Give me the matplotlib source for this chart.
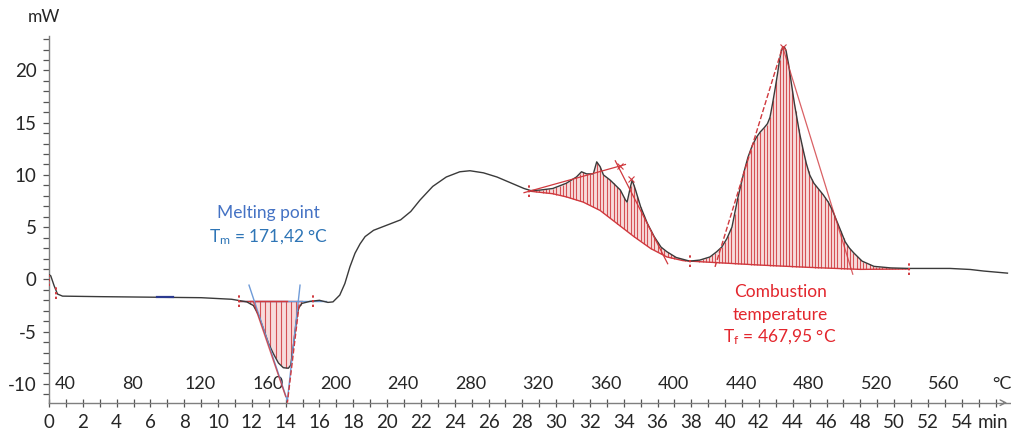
import numpy as np
import matplotlib
matplotlib.use("Agg")
import matplotlib.pyplot as plt
from matplotlib.ticker import MultipleLocator

plt.rcParams['font.family'] = ['Lato', 'DejaVu Sans']
plt.rcParams['mathtext.default'] = 'regular'
plt.rcParams['axes.unicode_minus'] = False

# DSC signal: time (min) vs heat flow (mW)
time_min = [0.0, 0.1, 0.3, 0.5, 0.8, 3.0, 6.0, 9.0, 10.8, 11.7, 12.09, 12.39, 12.68,
            12.98, 13.27, 13.57, 13.86, 14.16, 14.3, 14.46, 14.62, 14.75, 14.95, 15.44,
            16.0, 16.5, 16.8, 17.2, 17.5, 17.8, 18.1, 18.4, 18.7, 19.2, 20.0, 20.8, 21.4,
            21.95, 22.7, 23.5, 24.3, 24.9, 25.7, 26.5, 27.3, 28.1, 28.5, 29.05, 29.8,
            30.6, 31.2, 31.5, 31.8, 32.2, 32.4, 32.6, 32.8, 33.2, 33.8, 34.1, 34.2,
            34.4, 34.5, 34.7, 35.0, 35.4, 35.8, 36.2, 36.55, 37.1, 37.9, 38.5, 39.1,
            39.5, 39.8, 40.1, 40.4, 40.75, 41.1, 41.35, 41.6, 41.85, 42.07, 42.3, 42.5,
            42.65, 42.8, 42.95, 43.1, 43.2, 43.3, 43.4, 43.5, 43.6, 43.75, 43.95,
            44.1, 44.25, 44.4, 44.6, 44.8, 45.0, 45.25, 45.5, 45.8, 46.1, 46.35, 46.6,
            46.85, 47.1, 47.35, 47.6, 48.1, 48.8, 49.8, 50.9, 53.3, 54.5, 55.3, 56.7]
heat_mw = [0.45, 0.35, -0.6, -1.4, -1.6, -1.65, -1.7, -1.75, -1.9, -2.15, -2.5, -3.4, -4.7,
           -6.1, -7.1, -8.0, -8.45, -8.5, -8.2, -6.3, -4.05, -2.8, -2.3, -2.1,
           -2.0, -2.2, -2.15, -1.5, -0.4, 1.2, 2.5, 3.4, 4.1, 4.7, 5.2, 5.7, 6.5,
           7.6, 8.9, 9.8, 10.3, 10.4, 10.2, 9.8, 9.25, 8.7, 8.5, 8.55, 8.7,
           9.2, 9.8, 10.3, 10.1, 10.1, 11.25, 10.8, 10.0, 9.5, 8.55, 7.6, 7.4,
           8.9, 9.5, 8.55, 6.95, 5.35, 4.1, 3.1, 2.65, 2.1, 1.75, 1.85, 2.15,
           2.65, 3.1, 3.9, 5.0, 7.8, 10.2, 11.7, 12.8, 13.6, 14.1, 14.5, 14.9,
           15.5, 16.8, 18.2, 19.7, 20.8, 21.7, 22.2, 22.25, 21.9, 20.6, 18.4,
           16.8, 15.4, 14.0, 12.5, 11.1, 10.0, 9.2, 8.7, 8.1, 7.4, 6.6, 5.6,
           4.6, 3.6, 3.0, 2.55, 1.75, 1.25, 1.1, 1.05, 1.05, 0.95, 0.8, 0.6]

# evaluation baselines
melt_base_t = [11.25, 16.4]
melt_base_y = [-2.05, -2.05]
mid_base_t = [28.4, 29.8, 30.6, 31.6, 32.6, 33.6, 34.6, 35.6, 36.55, 37.5, 37.9]
mid_base_y = [8.45, 8.2, 7.9, 7.4, 6.6, 5.35, 4.1, 2.95, 2.15, 1.8, 1.75]
comb_base_t = [37.9, 42.1, 45.0, 48.0, 50.9]
comb_base_y = [1.75, 1.37, 1.15, 0.96, 1.0]

# evaluation limit markers
limit_t = [0.0, 0.4, 11.25, 15.6, 28.4, 37.9, 50.9]
limit_y = [-0.1, -1.3, -2.05, -2.05, 8.45, 1.75, 1.0]

# temperature scale labels (°C), heating ~10 K/min
temp_labels = [40, 80, 120, 160, 200, 240, 280, 320, 360, 400, 440, 480, 520, 560]
t_start_c = 30.6
rate = 10.0

red = '#D0393E'
blue = '#6F9BD8'
txt = '#262626'

fig = plt.figure(figsize=(10.11, 4.32), dpi=100)
ax = fig.add_axes([0.0485, 0.0678, 0.9505, 0.849])
ax.set_xlim(0, 56.85)
ax.set_ylim(-11.8, 23.3)

t = np.array(time_min)
y = np.array(heat_mw)


def hatch(bt, by, step):
    bt = np.array(bt)
    xs = np.arange(bt[0], bt[-1], step)
    top = np.interp(xs, t, y)
    bot = np.interp(xs, bt, by)
    fine = np.linspace(bt[0], bt[-1], 300)
    ax.fill_between(fine, np.interp(fine, t, y), np.interp(fine, bt, by),
                    color='#F7DCDC', lw=0, zorder=1)
    ax.vlines(xs, bot, top, color=red, lw=0.8, alpha=0.85, zorder=2)
    ax.plot(bt, by, color=red, lw=1.0, zorder=3)


hatch([11.9, 14.95], [-2.05, -2.05], 0.3)
hatch(mid_base_t, mid_base_y, 0.2)
hatch(comb_base_t, comb_base_y, 0.19)

ax.plot(t, y, color='#3A3A3A', lw=1.0, zorder=4)

# melting: baseline and tangents
ax.plot(melt_base_t, melt_base_y, color=blue, lw=1.0, zorder=3)
ax.plot([11.25, 14.1], [-2.05, -2.05], color=red, lw=1.0, zorder=3)
ax.plot([11.83, 14.1], [-0.55, -11.6], color=blue, lw=1.0, zorder=5)
ax.plot([14.85, 14.1], [-0.55, -11.6], color=blue, lw=1.0, zorder=5)
ax.plot([12.1, 14.0], [-2.2, -11.2], color=red, lw=1.0, alpha=0.8, zorder=5)
ax.plot([14.8, 14.1], [-2.4, -11.8], color=red, lw=1.0, ls='--', zorder=5)
ax.plot([6.4, 7.35], [-1.7, -1.7], color='#2B3A8F', lw=1.6, zorder=5)

# 320-400 °C step tangents
ax.plot([28.1, 34.1], [8.3, 11.0], color=red, lw=0.9, zorder=5)
ax.plot([33.5, 36.6], [11.35, 1.5], color=red, lw=0.9, zorder=5)
ax.plot([33.75, 34.45], [10.9, 9.6], 'x', color=red, ms=4, mew=0.8, zorder=5)

# combustion peak tangents
ax.plot([39.4, 43.4], [1.2, 22.25], color=red, lw=1.0, ls='--', zorder=5)
ax.plot([43.4, 47.55], [22.25, 0.5], color=red, lw=0.9, alpha=0.8, zorder=5)
ax.plot([43.4], [22.25], 'x', color=red, ms=4, mew=0.8, zorder=5)

for lt, ly in zip(limit_t, limit_y):
    ax.plot([lt, lt], [ly - 0.55, ly + 0.55], color=red, lw=1.4,
            ls=(0, (1.2, 1.2)), zorder=6)

# annotations
ax.text(12.96, 6.35, 'Melting point', color='#4472C4', fontsize=12.5,
        ha='center', va='center')
ax.text(12.96, 4.05, 'T$_{m}$ = 171,42 °C', color='#2E75B6', fontsize=12.5,
        ha='center', va='center')
ax.text(43.25, -1.2, 'Combustion', color='#E3262D', fontsize=12.5,
        ha='center', va='center')
ax.text(43.25, -3.4, 'temperature', color='#E3262D', fontsize=12.5,
        ha='center', va='center')
ax.text(43.25, -5.55, 'T$_{f}$ = 467,95 °C', color='#E3262D', fontsize=12.5,
        ha='center', va='center')

for tc in temp_labels:
    ax.text((tc - t_start_c) / rate, -10.0, str(tc), color=txt,
            fontsize=13, ha='center', va='center')
ax.text(56.35, -10.0, '°C', color=txt, fontsize=13, ha='center', va='center')

# axes styling
for s in ['top', 'right']:
    ax.spines[s].set_visible(False)
for s in ['left', 'bottom']:
    ax.spines[s].set_color('#7F7F7F')
    ax.spines[s].set_linewidth(1.0)

ax.xaxis.set_minor_locator(MultipleLocator(1))
ax.set_xticks(np.arange(0, 56, 2))
ax.tick_params(axis='x', which='both', direction='inout', length=6, width=0.9,
               color='#555555', labelsize=13.5, labelcolor=txt, pad=5)
ax.set_yticks([-10, -5, 0, 5, 10, 15, 20])
ax.yaxis.set_minor_locator(MultipleLocator(1))
ax.tick_params(axis='y', which='both', direction='out', length=4, width=0.9,
               color='#555555', labelsize=13.5, labelcolor=txt, pad=5)

ax.annotate('', xy=(56.85, -11.8), xytext=(56.3, -11.8),
            arrowprops=dict(arrowstyle='->', color='#7F7F7F', lw=1.0))
fig.text(993 / 1011, 1 - 423 / 432, 'min', color=txt, fontsize=13.5,
         ha='center', va='center')
fig.text(44 / 1011, 1 - 17 / 432, 'mW', color=txt, fontsize=12.5,
         ha='center', va='center')

fig.savefig('out.png', dpi=100)
